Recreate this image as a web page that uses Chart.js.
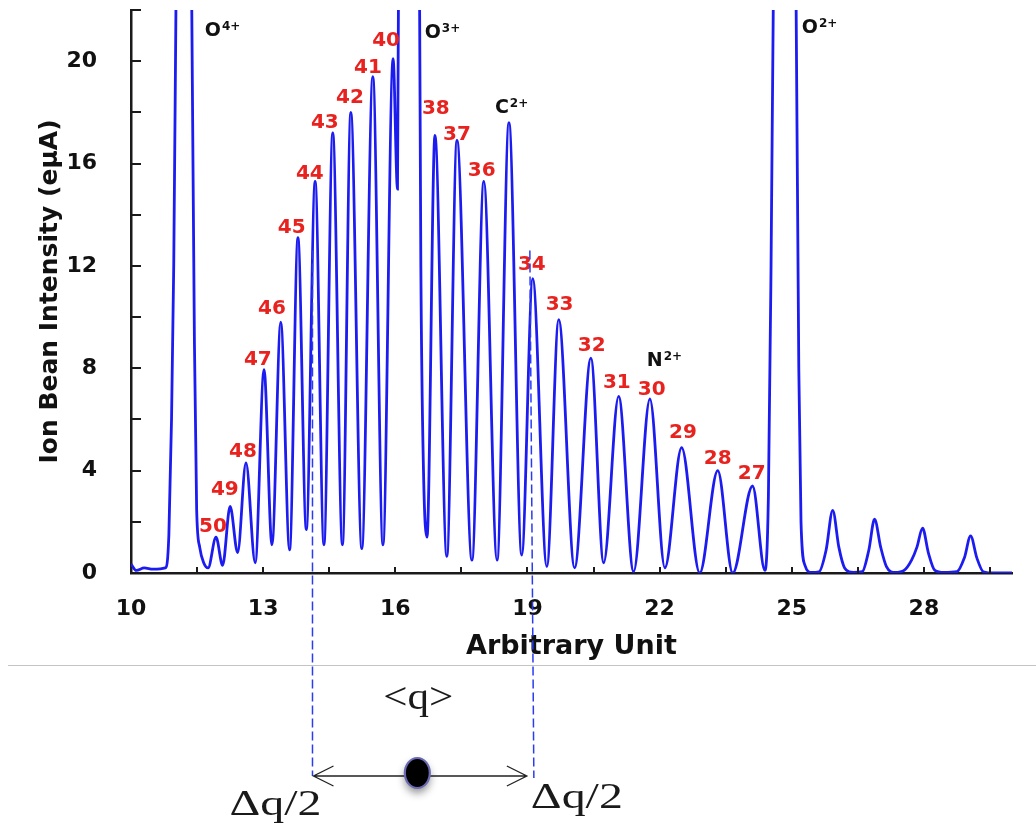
<!DOCTYPE html>
<html>
<head>
<meta charset="utf-8">
<script src="https://cdn.jsdelivr.net/npm/chart.js@4.4.1/dist/chart.umd.min.js"></script>
<style>
html,body{margin:0;padding:0;background:#fff;overflow:hidden}
canvas{display:block}
</style>
</head>
<body>
<canvas id="c" width="1036" height="823" style="width:1036px;height:823px"></canvas>
<script>
// ---- spectrum (x: arbitrary unit, y: ion beam intensity in eμA) ----
const scanPos = [
  10.00, 10.12, 10.30, 10.50, 10.78, 10.86, 10.92, 10.97, 11.02, 11.20, 11.38, 11.44, 11.49, 11.56, 11.65, 11.75,
  11.93, 12.08, 12.25, 12.42, 12.61, 12.82, 13.02, 13.20, 13.40, 13.60, 13.79, 13.98,
  14.18, 14.38, 14.58, 14.80, 14.99, 15.24, 15.49, 15.72, 15.95, 16.05,
  16.09, 16.30, 16.53, 16.58, 16.64, 16.72,
  16.90, 17.17, 17.40, 17.74, 18.01, 18.31, 18.58, 18.87, 19.12, 19.44, 19.71, 20.07,
  20.44, 20.73, 21.07, 21.41, 21.78, 22.12, 22.50, 22.91, 23.32, 23.66, 24.11, 24.39,
  24.47, 24.53, 24.58, 24.84, 25.10, 25.16, 25.21, 25.30, 25.45,
  25.62, 25.78, 25.93, 26.07, 26.20, 26.40,
  26.60, 26.75, 26.88, 27.02, 27.15, 27.35,
  27.55, 27.72, 27.84, 27.97, 28.10, 28.25, 28.45,
  28.75, 28.92, 29.06, 29.20, 29.35, 29.60, 30.00
];
const beamCurrent = [
  0.35, 0.10, 0.20, 0.15, 0.20, 1.5, 6.0, 12.0, 22.0, 55.0, 22.0, 9.0, 2.5, 1.0, 0.4, 0.2,
  1.4, 0.3, 2.6, 0.8, 4.3, 0.4, 7.95, 1.1, 9.8, 0.9, 13.1, 1.7,
  15.3, 1.1, 17.2, 1.1, 18.0, 0.95, 19.4, 1.1, 20.1, 15.0,
  30.0, 60.0, 30.0, 12.0, 4.0, 1.4,
  17.1, 0.65, 16.9, 0.5, 15.3, 0.5, 17.6, 0.7, 11.5, 0.25, 9.9, 0.2,
  8.4, 0.4, 6.9, 0.05, 6.8, 0.2, 4.9, 0.0, 4.0, 0.0, 3.4, 0.1,
  3.0, 12.0, 22.0, 60.0, 22.0, 8.0, 2.0, 0.3, 0.02,
  0.05, 0.9, 2.45, 1.0, 0.2, 0.02,
  0.05, 0.9, 2.1, 1.0, 0.25, 0.02,
  0.1, 0.5, 1.0, 1.75, 0.8, 0.1, 0.02,
  0.05, 0.6, 1.45, 0.6, 0.05, 0.0, 0.0
];

// charge-state labels (red) and where they sit
const chargeLabels = ['50','49','48','47','46','45','44','43','42','41','40','38','37','36','34','33','32','31','30','29','28','27'];
const chargeLabelPos = [11.86,12.13,12.54,12.88,13.20,13.65,14.06,14.40,14.97,15.38,15.79,16.92,17.40,17.96,19.10,19.73,20.46,21.03,21.82,22.53,23.32,24.09];
const chargeLabelLevel = [1.87,3.35,4.83,8.42,10.41,13.57,15.67,17.66,18.64,19.81,20.86,18.21,17.19,15.79,12.12,10.57,8.97,7.52,7.25,5.58,4.56,3.94];

// contaminant / analyte ion labels (black)
const ionNames = ['O','O','C','N','O'];
const ionCharges = ['4+','3+','2+','2+','2+'];
const ionLabelPos = [11.86,16.85,18.42,21.89,25.41];
const ionLabelLevel = [21.25,21.17,18.25,8.38,21.36];

// axis ticks
const xTicks = [10,11.5,13,14.5,16,17.5,19,20.5,22,23.5,25,26.5,28,29.5];
const xTickLabels = ['10','','13','','16','','19','','22','','25','','28',''];
const yTicks = [0,2,4,6,8,10,12,14,16,18,20,22];
const yTickLabels = ['0','','4','','8','','12','','16','','20',''];

// charge distribution width marks
const qLow = 14.12, qMean = 16.5, qHigh = 19.1, qMarkTop = 12.6;

const spectrum = scanPos.map((v, i) => ({x: v, y: beamCurrent[i]}));

const annotPlugin = {
  id: 'annot',
  afterDatasetsDraw(chart) {
    const {ctx, scales: {x, y}} = chart;
    ctx.save();
    ctx.font = 'bold 20px "DejaVu Sans"';
    ctx.fillStyle = '#e8231f';
    ctx.textAlign = 'center';
    ctx.textBaseline = 'alphabetic';
    chargeLabels.forEach((t, i) => {
      ctx.fillText(t, x.getPixelForValue(chargeLabelPos[i]), y.getPixelForValue(chargeLabelLevel[i]) + 7.3);
    });
    ionNames.forEach((t, i) => {
      const px = x.getPixelForValue(ionLabelPos[i]);
      const py = y.getPixelForValue(ionLabelLevel[i]);
      ctx.font = 'bold 19px "DejaVu Sans"';
      ctx.fillStyle = '#111';
      ctx.textAlign = 'center';
      ctx.fillText(t, px, py + 7);
      const w = ctx.measureText(t).width;
      ctx.font = 'bold 12px "DejaVu Sans"';
      ctx.textAlign = 'left';
      ctx.fillText(ionCharges[i], px + w / 2 + 1, py + 1);
    });
    ctx.restore();
  },
  afterDraw(chart) {
    const {ctx, scales: {x, y}, chartArea: ca} = chart;
    ctx.save();
    // inward tick marks
    ctx.strokeStyle = '#1a1a1a';
    ctx.lineWidth = 2;
    ctx.beginPath();
    y.ticks.forEach(t => {
      const py = Math.round(y.getPixelForValue(t.value));
      ctx.moveTo(ca.left, py); ctx.lineTo(ca.left + 10, py);
    });
    x.ticks.forEach(t => {
      const px = Math.round(x.getPixelForValue(t.value));
      ctx.moveTo(px, ca.bottom); ctx.lineTo(px, ca.bottom - 6);
    });
    ctx.stroke();

    const b = ca.bottom;
    // separator line
    ctx.strokeStyle = '#c4c4c4';
    ctx.lineWidth = 1;
    ctx.beginPath();
    ctx.moveTo(8, b + 92.5); ctx.lineTo(chart.width, b + 92.5);
    ctx.stroke();

    // dashed marker lines
    const xl = x.getPixelForValue(qLow), xh = x.getPixelForValue(qHigh), xm = x.getPixelForValue(qMean);
    const yTop = y.getPixelForValue(qMarkTop);
    ctx.strokeStyle = '#2a3cf0';
    ctx.lineWidth = 1.5;
    ctx.setLineDash([9, 4]);
    ctx.beginPath();
    ctx.moveTo(xl, yTop); ctx.lineTo(xl, b + 203);
    ctx.moveTo(xh - 2, yTop); ctx.lineTo(xh + 2, b + 205);
    ctx.stroke();
    ctx.setLineDash([]);

    // double arrow
    const ay = b + 203;
    const x1 = xl + 1, x2 = xh - 5;
    ctx.strokeStyle = '#222';
    ctx.lineWidth = 1.3;
    ctx.beginPath();
    ctx.moveTo(x1, ay); ctx.lineTo(x2, ay);
    ctx.moveTo(x1 + 20, ay - 10); ctx.lineTo(x1, ay); ctx.lineTo(x1 + 20, ay + 10);
    ctx.moveTo(x2 - 20, ay - 10); ctx.lineTo(x2, ay); ctx.lineTo(x2 - 20, ay + 10);
    ctx.stroke();

    // mean marker
    ctx.save();
    ctx.shadowColor = 'rgba(0,0,0,0.45)';
    ctx.shadowBlur = 8;
    ctx.shadowOffsetY = 5;
    ctx.beginPath();
    ctx.ellipse(xm, ay - 3, 12.5, 15, 0, 0, Math.PI * 2);
    ctx.fillStyle = '#000';
    ctx.fill();
    ctx.restore();
    ctx.beginPath();
    ctx.ellipse(xm, ay - 3, 12.5, 15, 0, 0, Math.PI * 2);
    ctx.strokeStyle = '#6a6ab4';
    ctx.lineWidth = 2.2;
    ctx.stroke();

    // serif annotation text
    const stretched = (t, cx, base, size, width) => {
      ctx.save();
      ctx.font = size + 'px "Liberation Serif"';
      ctx.fillStyle = '#1a1a1a';
      ctx.textAlign = 'center';
      ctx.textBaseline = 'alphabetic';
      const sx = width / ctx.measureText(t).width;
      ctx.translate(cx, base);
      ctx.scale(sx, 1);
      ctx.fillText(t, 0, 0);
      ctx.restore();
    };
    stretched('<q>', xm + 1, b + 136, 37, 70);
    stretched('Δq/2', xl - 37, b + 242, 35, 92);
    stretched('Δq/2', xh + 45, b + 235, 35, 92);
    ctx.restore();
  }
};

const tickFont = {family: 'DejaVu Sans', weight: 'bold', size: 22};

new Chart(document.getElementById('c'), {
  type: 'line',
  data: {
    datasets: [{
      data: spectrum,
      borderColor: '#1c1cf0',
      borderWidth: 2.8,
      pointRadius: 0,
      fill: false,
      cubicInterpolationMode: 'monotone'
    }]
  },
  options: {
    responsive: false,
    animation: false,
    layout: {padding: {top: 10, right: 24, bottom: 160, left: 0}},
    plugins: {legend: {display: false}, tooltip: {enabled: false}},
    scales: {
      x: {
        type: 'linear', min: 10, max: 30,
        afterBuildTicks: s => { s.ticks = xTicks.map(v => ({value: v})); },
        afterFit: s => { s.height = 90; s.paddingLeft = 0; s.paddingRight = 0; },
        grid: {display: false},
        border: {display: true, color: '#1a1a1a', width: 2.5},
        ticks: {autoSkip: false, maxRotation: 0, padding: 15, color: '#111', font: tickFont,
                callback: (v, i) => xTickLabels[i]},
        title: {display: true, text: 'Arbitrary Unit', color: '#111',
                font: {family: 'DejaVu Sans', weight: 'bold', size: 27}, padding: {top: 0, bottom: 0}}
      },
      y: {
        min: 0, max: 22,
        afterBuildTicks: s => { s.ticks = yTicks.map(v => ({value: v})); },
        afterFit: s => { s.width = 131; s.paddingTop = 0; s.paddingBottom = 0; },
        grid: {display: false},
        border: {display: true, color: '#1a1a1a', width: 2.5},
        ticks: {autoSkip: false, padding: 26, color: '#111', font: tickFont,
                callback: (v, i) => yTickLabels[i]},
        title: {display: true, text: 'Ion Bean Intensity (eμA)', color: '#111',
                font: {family: 'DejaVu Sans', weight: 'bold', size: 25}, padding: {top: 35, bottom: 0}}
      }
    }
  },
  plugins: [annotPlugin]
});
</script>
</body>
</html>
